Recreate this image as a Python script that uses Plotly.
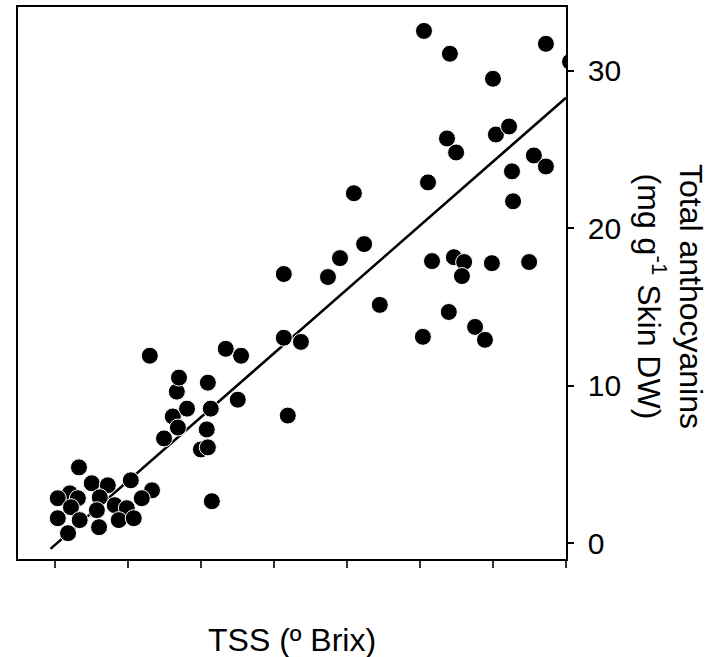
import plotly.graph_objects as go

# TSS (x, arbitrary axis units) and total anthocyanins (y)
tss = [10.66, 11.01, 11.45, 12.08, 12.66, 10.41, 10.08, 10.63, 11.23, 10.44,
       11.64, 11.97, 12.38, 10.08, 10.68, 11.15, 11.21, 11.75, 12.16, 10.36,
       12.60, 12.99, 13.23, 13.37, 13.62, 13.34, 13.40, 14.19, 14.27, 14.16,
       14.00, 14.19, 15.01, 14.30, 14.68, 15.10,
       16.27, 16.27, 16.74, 16.38, 17.48, 17.81, 18.19, 18.47, 18.90,
       20.11, 20.82, 23.45, 22.00, 24.11, 20.74, 20.99, 22.08, 22.44, 23.12,
       23.45, 22.52, 20.22, 22.55, 20.33, 20.93, 21.21, 21.15, 21.97, 22.99,
       20.79, 21.51, 21.78, 20.08]
antho = [4.81, 3.80, 3.67, 3.99, 3.35, 3.16, 2.85, 2.85, 2.91, 2.28,
         2.41, 2.22, 2.85, 1.58, 1.46, 2.09, 1.01, 1.46, 1.58, 0.63,
         11.90, 6.65, 8.04, 7.34, 8.54, 9.62, 10.51, 10.19, 8.54, 7.22,
         5.95, 6.08, 9.11, 2.66, 12.34, 11.90,
         17.09, 13.04, 12.78, 8.10, 16.90, 18.10, 22.22, 18.99, 15.13,
         32.53, 31.08, 31.71, 29.49, 30.57, 25.70, 24.81, 25.95, 26.46, 24.62,
         23.92, 23.61, 22.91, 21.71, 17.91, 18.16, 17.85, 16.96, 17.78, 17.85,
         14.68, 13.73, 12.91, 13.10]

# regression line
fit_slope = 2.029
fit_intercept = -20.41
fit_x = [9.88, 24.0]
fit_y = [fit_slope * v + fit_intercept for v in fit_x]

x_ticks = [10, 12, 14, 16, 18, 20, 22, 24]
y_ticks = [0, 10, 20, 30]

font = "Liberation Sans, Arial, sans-serif"

fig = go.Figure()
fig.add_trace(go.Scatter(x=fit_x, y=fit_y, mode="lines",
                         line=dict(color="black", width=2.5),
                         hoverinfo="skip", showlegend=False))
fig.add_trace(go.Scatter(x=tss, y=antho, mode="markers",
                         marker=dict(size=17, color="black",
                                     line=dict(color="white", width=1)),
                         cliponaxis=True, showlegend=False))

fig.update_layout(
    width=710, height=657,
    margin=dict(l=18, r=144, t=5, b=98),
    plot_bgcolor="white", paper_bgcolor="white",
    font=dict(family=font, size=30, color="black"),
    xaxis=dict(range=[8.99, 24.0], tickvals=x_ticks, showticklabels=False,
               ticks="outside", ticklen=7, tickwidth=1.5, tickcolor="#333",
               showline=True, linecolor="black", linewidth=1.5, mirror=True,
               showgrid=False, zeroline=False),
    yaxis=dict(range=[-1.01, 34.05], tickvals=y_ticks, side="right",
               ticks="outside", ticklen=6, tickwidth=1.5, tickcolor="black",
               ticklabelstandoff=8,
               tickfont=dict(family=font, size=30, color="black"),
               showline=True, linecolor="black", linewidth=1.5, mirror=True,
               showgrid=False, zeroline=False),
    annotations=[
        dict(text="TSS (º Brix)", xref="paper", yref="paper", x=0.5, y=-(640 - 559) / 554,
             xanchor="center", yanchor="middle", showarrow=False,
             font=dict(family=font, size=32, color="black")),
        dict(text="Total anthocyanins<br>(mg g<sup>-1</sup> Skin DW)",
             xref="paper", yref="paper", x=1.0 + (670 - 566) / 548, y=(559 - 295) / 554,
             xanchor="center", yanchor="middle", showarrow=False, textangle=90,
             font=dict(family=font, size=32, color="black")),
    ],
)

fig.write_html("out.html")
